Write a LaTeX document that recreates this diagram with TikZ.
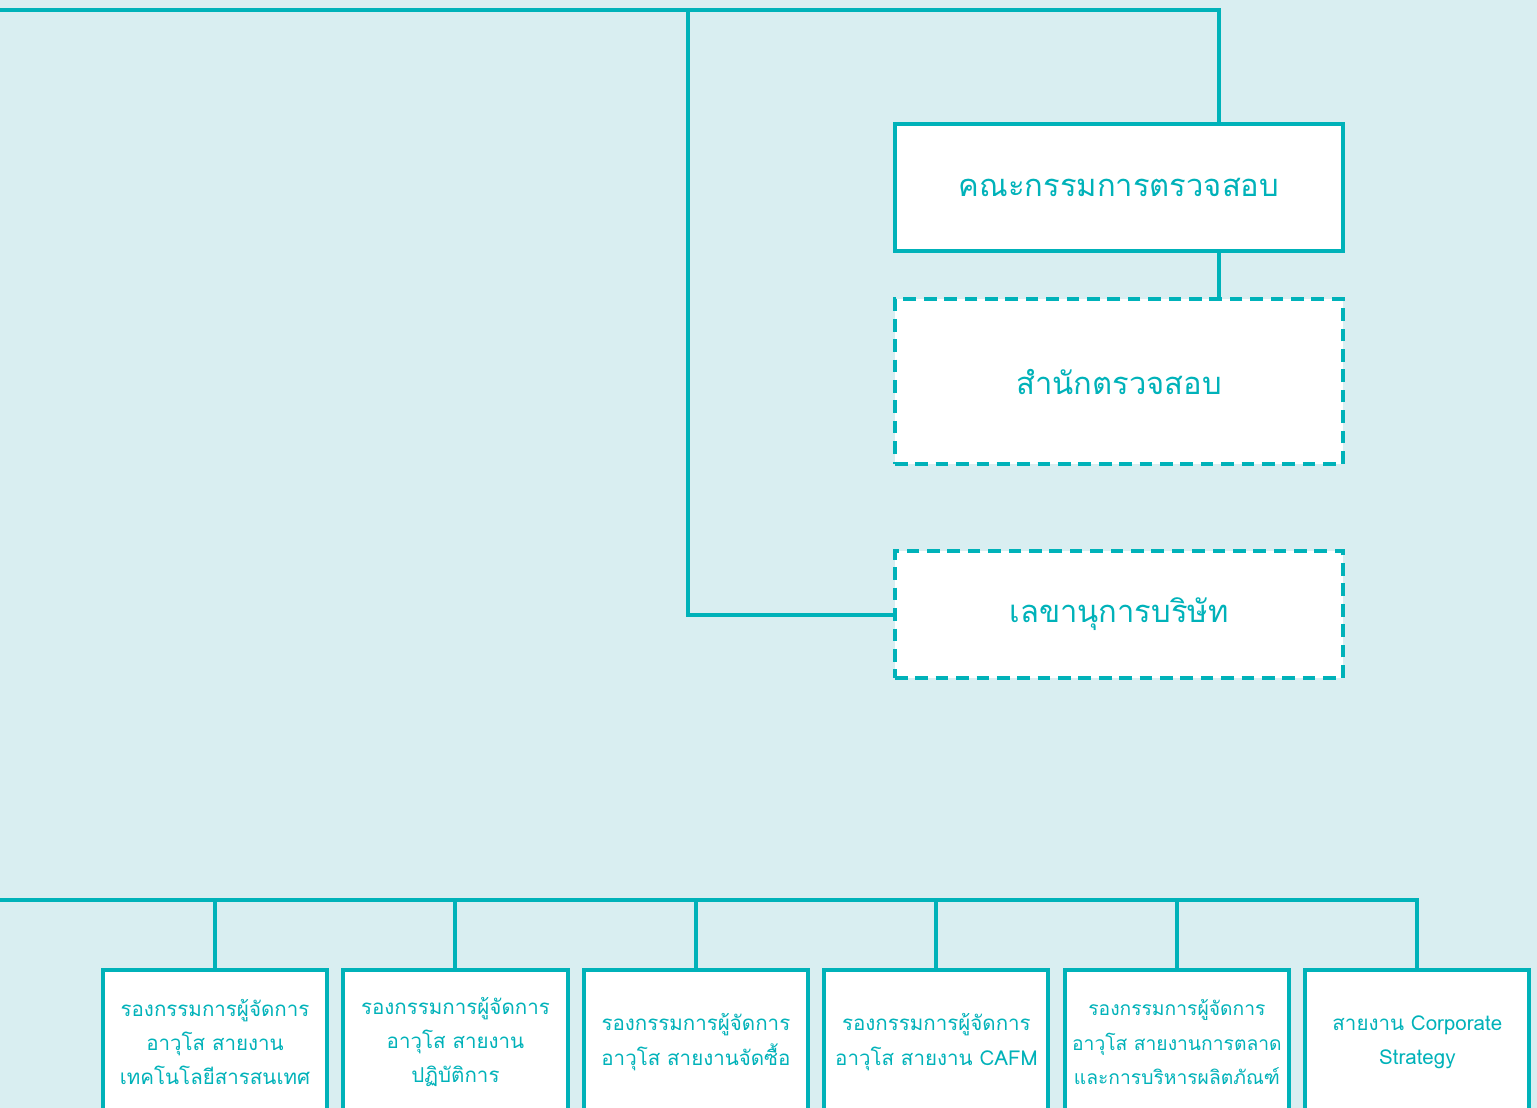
\documentclass[tikz,border=0pt]{standalone}
\usepackage{fontspec}
\newfontfamily\thaifont[Script=Thai]{Loma}
\usetikzlibrary{positioning, calc}
\definecolor{orgline}{HTML}{00B2B9}
\definecolor{orgbg}{HTML}{D9EEF1}
\tikzset{
	x=0.025cm, y=-0.025cm,
	conn/.style={draw=orgline, line width=2.85pt},
	topbox/.style={draw=orgline, fill=white, line width=2.85pt, minimum width=11.2cm, minimum height=3.18cm, text=orgline, font=\thaifont\fontsize{22}{26}\selectfont},
	dashbox/.style={topbox, dash pattern=on 9pt off 5.5pt},
	vpbox/.style={draw=orgline, fill=white, line width=2.85pt, text width=5.5cm, inner xsep=0.05cm, minimum height=3.6cm, text=orgline, align=center, font=\thaifont\fontsize{14.6}{24.5}\selectfont},
}

\begin{document}
\begin{tikzpicture}
	\useasboundingbox (0,0) rectangle (1537,1108);
	\clip (0,0) rectangle (1537,1108);
	\fill[orgbg] (0,0) rectangle (1537,1108);

	\coordinate (topL) at (0,10);
	\coordinate (topM) at (688,10);
	\coordinate (topR) at (1219,10);
	\coordinate (busL) at (0,900);

	\node[topbox, anchor=north] (AUDITCOM) at (1119,122) {คณะกรรมการตรวจสอบ};
	\node[dashbox, below=1.1cm of AUDITCOM, minimum height=4.12cm] (AUDITOFF) {สำนักตรวจสอบ};
	\node[dashbox, below=2.07cm of AUDITOFF] (SECRETARY) {เลขานุการบริษัท};

	\draw[conn] (topL) -| (AUDITCOM.north -| topR);
	\draw[conn] (AUDITCOM.south -| topR) -- (AUDITOFF.north -| topR);
	\draw[conn] (topM) |- (SECRETARY.west);

	\node[vpbox, anchor=north] (VP1) at (215,968) {รองกรรมการผู้จัดการ\\อาวุโส สายงาน\\เทคโนโลยีสารสนเทศ};
	\node[vpbox, right=0.31cm of VP1] (VP2) {รองกรรมการผู้จัดการ\\อาวุโส สายงาน\\ปฏิบัติการ};
	\node[vpbox, right=0.31cm of VP2] (VP3) {รองกรรมการผู้จัดการ\\อาวุโส สายงานจัดซื้อ};
	\node[vpbox, right=0.31cm of VP3] (VP4) {รองกรรมการผู้จัดการ\\อาวุโส สายงาน CAFM};
	\node[vpbox, right=0.31cm of VP4, font=\thaifont\fontsize{13.7}{24.5}\selectfont] (VP5) {รองกรรมการผู้จัดการ\\อาวุโส สายงานการตลาด\\และการบริหารผลิตภัณฑ์};
	\node[vpbox, right=0.31cm of VP5] (VP6) {สายงาน Corporate\\Strategy};

	\draw[conn] (busL) -| (VP6.north);
	\draw[conn] (VP1.north) -- (VP1.north |- busL);
	\draw[conn] (VP2.north) -- (VP2.north |- busL);
	\draw[conn] (VP3.north) -- (VP3.north |- busL);
	\draw[conn] (VP4.north) -- (VP4.north |- busL);
	\draw[conn] (VP5.north) -- (VP5.north |- busL);
\end{tikzpicture}
\end{document}
